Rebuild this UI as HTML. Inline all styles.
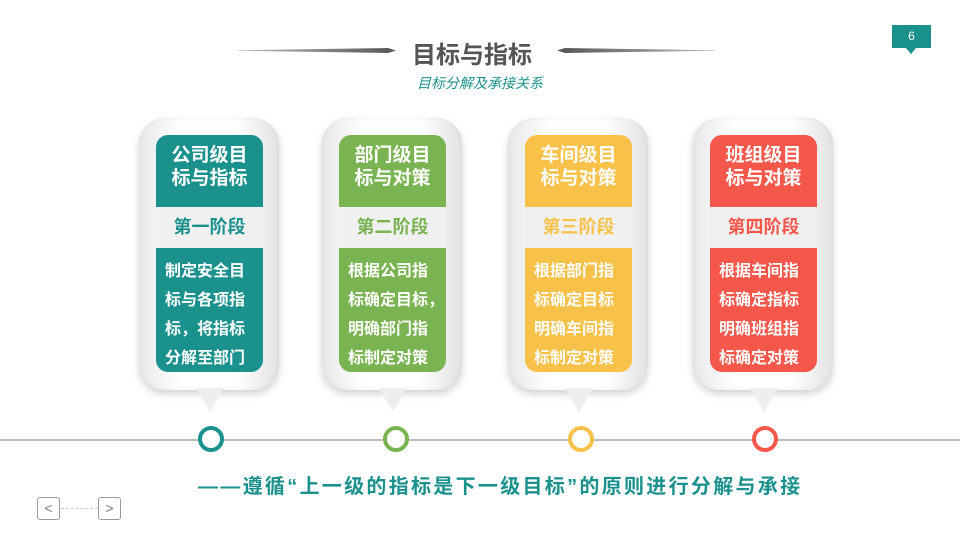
<!DOCTYPE html>
<html><head><meta charset="utf-8"><style>
*{margin:0;padding:0;box-sizing:border-box}
body{width:960px;height:540px;background:#fff;position:relative;overflow:hidden;font-family:"Liberation Sans","Noto Sans CJK SC",sans-serif}
.abs{position:absolute}
.card{position:absolute;top:118px;width:140px;height:272px;border-radius:26px;background:linear-gradient(90deg,#e8e8e8,#fff 30%,#fff 70%,#e2e2e2);box-shadow:0 4px 8px rgba(0,0,0,.18),inset 0 0 6px rgba(0,0,0,.05)}
.ptr{position:absolute;top:388px;width:0;height:0;border-left:14px solid transparent;border-right:14px solid transparent;border-top:24px solid #eeeeee}
.inner{position:absolute;left:17px;top:17px;width:107px;height:237px;border-radius:12px;overflow:hidden;color:#fff}
.hd{height:72px;padding-top:9px;text-align:center;font-weight:bold;font-size:19px;line-height:23px}
.band{height:41px;background:#f0f0f0;text-align:center;font-weight:bold;font-size:18px;line-height:41px}
.bd{height:124px;padding:9px 0 0 9px;font-size:16px;line-height:29px;font-weight:bold;white-space:nowrap}
.dot{position:absolute;top:426px;width:26px;height:26px;border-radius:50%;background:#fff;border:4px solid}
</style></head><body>
<div class="abs" style="left:238px;top:48px;width:158px;height:5px;background:linear-gradient(90deg,#bbb,#555);clip-path:polygon(0 45%,95% 0,100% 50%,95% 100%,0 55%)"></div>
<div class="abs" style="left:557px;top:48px;width:158px;height:5px;background:linear-gradient(270deg,#bbb,#555);clip-path:polygon(0 50%,5% 0,100% 45%,100% 55%,5% 100%)"></div>
<div class="abs" style="left:372px;top:35px;width:200px;text-align:center;font-size:24px;font-weight:bold;color:#555">目标与指标</div>
<div class="abs" style="left:380px;top:73px;width:200px;text-align:center;font-size:14px;font-style:italic;color:#1b918d">目标分解及承接关系</div>
<div class="abs" style="left:892px;top:25px;width:39px;height:23px;background:#1b918d;color:#fff;font-size:12px;text-align:center;line-height:23px">6</div>
<div class="abs" style="left:906px;top:48px;border-left:5px solid transparent;border-right:5px solid transparent;border-top:6px solid #1b918d"></div>
<div class="abs" style="left:0;top:439px;width:960px;height:2px;background:#bdbdbd"></div>

<div class="card" style="left:139px"><div class="inner" style="background:#1b918d"><div class="hd">公司级目<br>标与指标</div><div class="band" style="color:#1b918d">第一阶段</div><div class="bd">制定安全目<br>标与各项指<br>标，将指标<br>分解至部门</div></div></div>
<div class="ptr" style="left:196px"></div>
<div class="card" style="left:322px"><div class="inner" style="background:#7ab352"><div class="hd">部门级目<br>标与对策</div><div class="band" style="color:#7ab352">第二阶段</div><div class="bd">根据公司指<br>标确定目标，<br>明确部门指<br>标制定对策</div></div></div>
<div class="ptr" style="left:379px"></div>
<div class="card" style="left:508px"><div class="inner" style="background:#f8c14a"><div class="hd">车间级目<br>标与对策</div><div class="band" style="color:#f8c14a">第三阶段</div><div class="bd">根据部门指<br>标确定目标<br>明确车间指<br>标制定对策</div></div></div>
<div class="ptr" style="left:565px"></div>
<div class="card" style="left:693px"><div class="inner" style="background:#f5574a"><div class="hd">班组级目<br>标与对策</div><div class="band" style="color:#f5574a">第四阶段</div><div class="bd">根据车间指<br>标确定指标<br>明确班组指<br>标确定对策</div></div></div>
<div class="ptr" style="left:750px"></div>

<div class="dot" style="left:198px;border-color:#1b918d"></div>
<div class="dot" style="left:383px;border-color:#7ab352"></div>
<div class="dot" style="left:568px;border-color:#f8c14a"></div>
<div class="dot" style="left:752px;border-color:#f5574a"></div>

<div class="abs" style="left:198px;top:470px;width:640px;white-space:nowrap;font-size:20px;letter-spacing:2.3px;font-weight:bold;color:#1b918d">——遵循“上一级的指标是下一级目标”的原则进行分解与承接</div>

<div class="abs" style="left:37px;top:497px;width:23px;height:23px;border:1px solid #999;border-radius:3px;color:#777;font-size:14px;text-align:center;line-height:21px">&lt;</div>
<div class="abs" style="left:61px;top:508px;width:37px;border-top:1px dashed #ccc"></div>
<div class="abs" style="left:98px;top:497px;width:23px;height:23px;border:1px solid #999;border-radius:3px;color:#777;font-size:14px;text-align:center;line-height:21px">&gt;</div>
</body></html>
